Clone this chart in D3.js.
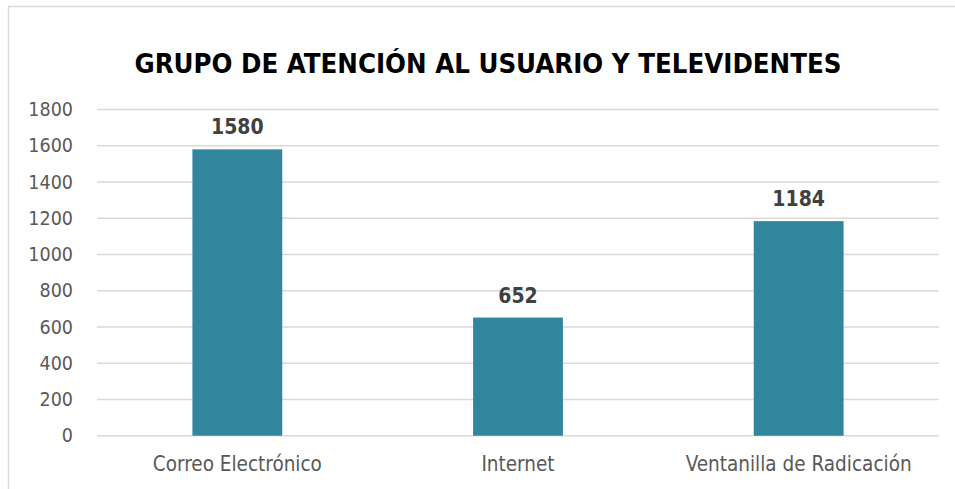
<!DOCTYPE html>
<html><head><meta charset="utf-8">
<script src="https://cdn.jsdelivr.net/npm/d3@7"></script>
<style>body{margin:0;background:#fff}svg{display:block}</style>
</head><body><svg id="c" width="955" height="489"></svg>
<script>
const categories = ["Correo Electrónico", "Internet", "Ventanilla de Radicación"];
const values = [1580, 652, 1184];
const yTicks = [0, 200, 400, 600, 800, 1000, 1200, 1400, 1600, 1800];
const title = "GRUPO DE ATENCIÓN AL USUARIO Y TELEVIDENTES";

const font = "'DejaVu Sans Condensed', 'DejaVu Sans', sans-serif";
const svg = d3.select("#c");
svg.append("rect").attr("x", 8.5).attr("y", 6.5).attr("width", 960).attr("height", 500)
  .attr("fill", "#fff").attr("stroke", "#d9d9d9").attr("stroke-width", 1.5);

const m = {left: 97, right: 939, top: 109.5, bottom: 435.7};
const x = d3.scaleBand().domain(categories).range([m.left, m.right]).paddingInner(0).paddingOuter(0);
const y = d3.scaleLinear().domain([0, 1800]).range([m.bottom, m.top]);

svg.append("g").selectAll("line").data(yTicks).join("line")
  .attr("x1", m.left).attr("x2", m.right)
  .attr("y1", d => y(d)).attr("y2", d => y(d))
  .attr("stroke", "#d9d9d9").attr("stroke-width", 1.5);

const yAxis = svg.append("g").attr("transform", `translate(${m.left},0)`)
  .call(d3.axisLeft(y).tickValues(yTicks).tickFormat(d3.format("d")).tickSize(0).tickPadding(24));
yAxis.select(".domain").remove();
yAxis.selectAll("text").attr("fill", "#595959").attr("font-family", font).attr("font-size", 19.5);

const bw = x.bandwidth() * 0.32;
svg.append("g").selectAll("rect").data(values).join("rect")
  .attr("x", (d, i) => x(categories[i]) + x.bandwidth() / 2 - bw / 2)
  .attr("width", bw)
  .attr("y", d => y(d)).attr("height", d => y(0) - y(d))
  .attr("fill", "#31859C");

svg.append("g").selectAll("text").data(values).join("text")
  .attr("x", (d, i) => x(categories[i]) + x.bandwidth() / 2)
  .attr("y", d => y(d) - 15)
  .attr("text-anchor", "middle").attr("font-family", font).attr("font-weight", "bold")
  .attr("font-size", 21).attr("fill", "#404040").text(d => d);

const xAxis = svg.append("g").attr("transform", `translate(0,${m.bottom})`)
  .call(d3.axisBottom(x).tickSize(0).tickPadding(21));
xAxis.select(".domain").remove();
xAxis.selectAll("text").attr("fill", "#595959").attr("font-family", font).attr("font-size", 20.5);

svg.append("text").attr("x", 488).attr("y", 73).attr("text-anchor", "middle")
  .attr("font-family", font).attr("font-weight", "bold").attr("font-size", 26)
  .attr("textLength", 707).attr("lengthAdjust", "spacingAndGlyphs")
  .attr("fill", "#000").text(title);
</script></body></html>
